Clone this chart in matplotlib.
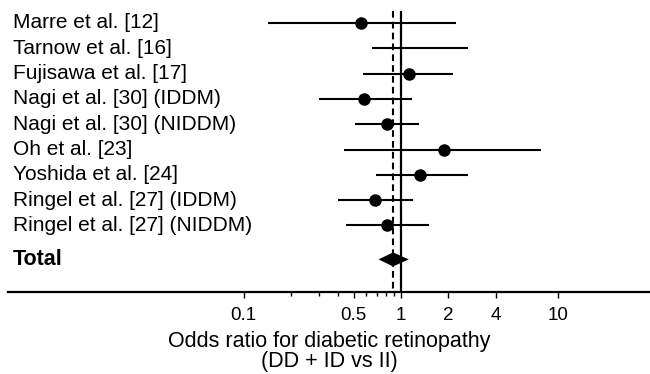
import numpy as np
import matplotlib
matplotlib.use("Agg")
import matplotlib.pyplot as plt
from matplotlib.transforms import blended_transform_factory
from matplotlib.ticker import FixedLocator, NullFormatter

plt.rcParams['font.family'] = ['Liberation Sans', 'DejaVu Sans']

# =========================================================
# DATA (odds ratios)
# =========================================================
studies = [
    "Marre et al. [12]",
    "Tarnow et al. [16]",
    "Fujisawa et al. [17]",
    "Nagi et al. [30] (IDDM)",
    "Nagi et al. [30] (NIDDM)",
    "Oh et al. [23]",
    "Yoshida et al. [24]",
    "Ringel et al. [27] (IDDM)",
    "Ringel et al. [27] (NIDDM)",
]
odds = [0.56, np.nan, 1.12, 0.58, 0.81, 1.87, 1.33, 0.68, 0.81]
ci_low = [0.143, 0.65, 0.57, 0.30, 0.51, 0.435, 0.69, 0.40, 0.45]
ci_high = [2.24, 2.67, 2.14, 1.18, 1.30, 7.8, 2.67, 1.19, 1.51]

total_or = 0.89
total_low = 0.72
total_high = 1.12

tick_vals = [0.1, 0.5, 1, 2, 4, 10]
tick_labels = ["0.1", "0.5", "1", "2", "4", "10"]
minor_vals = [0.2, 0.3, 0.4, 0.6, 0.7, 0.8, 0.9]

# =========================================================
# FIGURE
# =========================================================
fig = plt.figure(figsize=(6.5, 3.74), dpi=100)
ax = fig.add_axes([8 / 650, 82 / 374, 642 / 650, 292 / 374])

ax.set_xscale("log")
ax.set_xlim(0.00317, 38.3)

row_gap = 25.3  # px between rows
top_off = 23 / row_gap
ax.set_ylim((292 - 23) / row_gap, -top_off)

y = np.arange(len(studies))
y_total = len(studies) - 1 + 34 / row_gap

# reference lines
ax.vlines(1, -12 / row_gap, (292 - 23) / row_gap, color="black", lw=1.6)
ax.vlines(total_or, -12 / row_gap, (292 - 23) / row_gap, color="black",
          lw=1.5, linestyles=(0, (3.2, 2.0)))

# confidence intervals + point estimates
ax.hlines(y, ci_low, ci_high, color="black", lw=1.5)
ax.plot(odds, y, "o", color="black", markersize=8)

# pooled estimate diamond
dh = 7 / row_gap
ax.fill([total_low, total_or, total_high, total_or],
        [y_total, y_total - dh, y_total, y_total + dh],
        color="black", lw=0)

# study labels
trans = blended_transform_factory(fig.transFigure, ax.transData)
for yi, name in zip(y, studies):
    ax.text(13 / 650, yi, name, transform=trans, ha="left", va="center",
            fontsize=15)
ax.text(13 / 650, y_total, "Total", transform=trans, ha="left",
        va="center", fontsize=15.5, fontweight="bold")

# axes styling
for s in ["top", "left", "right"]:
    ax.spines[s].set_visible(False)
ax.spines["bottom"].set_linewidth(1.6)
ax.set_yticks([])
ax.xaxis.set_major_locator(FixedLocator(tick_vals))
ax.set_xticklabels(tick_labels, fontsize=13.5)
ax.xaxis.set_minor_locator(FixedLocator(minor_vals))
ax.xaxis.set_minor_formatter(NullFormatter())
ax.tick_params(axis="x", which="major", length=4, width=1, pad=7)
ax.tick_params(axis="x", which="minor", length=3, width=1)

ax.set_xlabel("Odds ratio for diabetic retinopathy\n(DD + ID vs II)",
              fontsize=15.5, labelpad=5, linespacing=0.92)

fig.savefig("out.png", dpi=100)
